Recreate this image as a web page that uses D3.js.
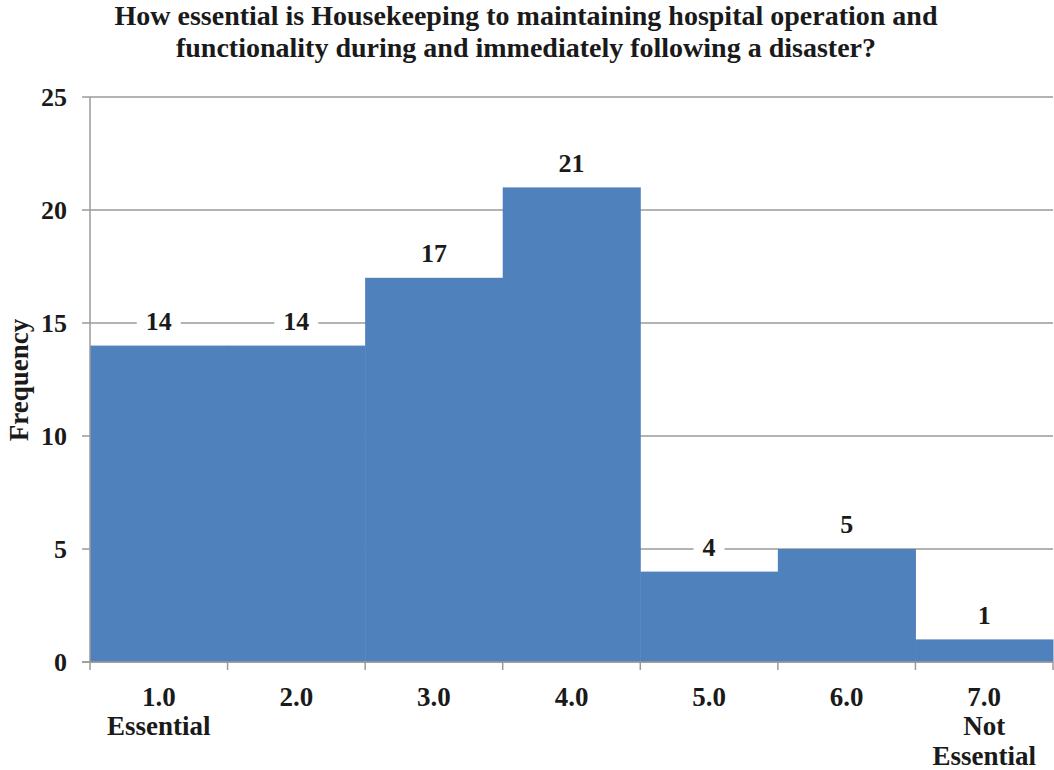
<!DOCTYPE html>
<html>
<head>
<meta charset="utf-8">
<script src="https://cdn.jsdelivr.net/npm/d3@7"></script>
<style>
  html, body { margin: 0; padding: 0; background: #fff; }
  svg text { font-family: "Liberation Serif", "Times New Roman", serif; font-weight: bold; fill: #1a1a1a; }
</style>
</head>
<body>
<svg id="chart" width="1054" height="770"></svg>
<script>
// Survey responses: rating (1 = Essential … 7 = Not Essential) and frequency
const categories = ["1.0", "2.0", "3.0", "4.0", "5.0", "6.0", "7.0"];
const subLabels = [["Essential"], [], [], [], [], [], ["Not", "Essential"]];
const frequencies = [14, 14, 17, 21, 4, 5, 1];
const yTicks = [0, 5, 10, 15, 20, 25];
const titleLines = [
  "How essential is Housekeeping to maintaining hospital operation and",
  "functionality during and immediately following a disaster?"
];
const yTitle = "Frequency";

const svg = d3.select("#chart");
const margin = { left: 90, right: 1, top: 97, bottom: 108 };
const W = 1054, H = 770;

const x = d3.scaleBand().domain(categories).range([margin.left, W - margin.right]).padding(0);
const y = d3.scaleLinear().domain([0, 25]).range([H - margin.bottom, margin.top]);

// gridlines
svg.append("g")
  .selectAll("line")
  .data(yTicks)
  .join("line")
  .attr("x1", margin.left - 8)
  .attr("x2", W - margin.right)
  .attr("y1", d => y(d))
  .attr("y2", d => y(d))
  .attr("stroke", "#9a9a9a")
  .attr("stroke-width", 1.5);

// bars (histogram style, no gaps)
svg.append("g")
  .selectAll("rect")
  .data(frequencies)
  .join("rect")
  .attr("x", (d, i) => x(categories[i]))
  .attr("width", x.bandwidth() + 0.5)
  .attr("y", d => y(d))
  .attr("height", d => y(0) - y(d))
  .attr("fill", "#4F81BD");

// y axis line
svg.append("line")
  .attr("x1", margin.left).attr("x2", margin.left)
  .attr("y1", y(25)).attr("y2", y(0) + 8)
  .attr("stroke", "#9a9a9a").attr("stroke-width", 1.5);

// x axis line and ticks at band boundaries
svg.append("line")
  .attr("x1", margin.left - 8).attr("x2", W - margin.right)
  .attr("y1", y(0)).attr("y2", y(0))
  .attr("stroke", "#9a9a9a").attr("stroke-width", 1.5);
const boundaries = categories.map(c => x(c)).concat([x(categories[categories.length - 1]) + x.bandwidth()]);
svg.append("g")
  .selectAll("line")
  .data(boundaries.slice(1))
  .join("line")
  .attr("x1", d => d).attr("x2", d => d)
  .attr("y1", y(0)).attr("y2", y(0) + 8)
  .attr("stroke", "#9a9a9a").attr("stroke-width", 1.5);

// y tick labels
svg.append("g")
  .selectAll("text")
  .data(yTicks)
  .join("text")
  .attr("x", 67)
  .attr("y", d => y(d))
  .attr("dy", "0.35em")
  .attr("text-anchor", "end")
  .attr("font-size", 26)
  .text(d => d);

// x tick labels
const xl = svg.append("g")
  .selectAll("text")
  .data(categories)
  .join("text")
  .attr("text-anchor", "middle")
  .attr("font-size", 27)
  .attr("x", d => x(d) + x.bandwidth() / 2)
  .attr("y", 706);
xl.append("tspan").text(d => d);
xl.each(function (d, i) {
  subLabels[i].forEach((s, j) => {
    d3.select(this).append("tspan")
      .attr("x", x(d) + x.bandwidth() / 2)
      .attr("y", 735 + j * 30)
      .text(s);
  });
});

// value labels with white backing over gridlines
const vl = svg.append("g")
  .selectAll("g")
  .data(frequencies)
  .join("g")
  .attr("transform", (d, i) => `translate(${x(categories[i]) + x.bandwidth() / 2},${y(d) - 25})`);
vl.append("text")
  .attr("text-anchor", "middle")
  .attr("dy", "0.35em")
  .attr("font-size", 26)
  .text(d => d)
  .each(function () {
    const b = this.getBBox();
    d3.select(this.parentNode).insert("rect", "text")
      .attr("x", b.x - 9).attr("y", b.y)
      .attr("width", b.width + 18).attr("height", b.height)
      .attr("fill", "#fff");
  });

// title
svg.append("text")
  .attr("text-anchor", "middle")
  .attr("font-size", 28)
  .selectAll("tspan")
  .data(titleLines)
  .join("tspan")
  .attr("x", 526)
  .attr("y", (d, i) => 25 + i * 32)
  .text(d => d);

// y axis title
svg.append("text")
  .attr("transform", "translate(28,380) rotate(-90)")
  .attr("text-anchor", "middle")
  .attr("font-size", 27)
  .text(yTitle);
</script>
</body>
</html>
